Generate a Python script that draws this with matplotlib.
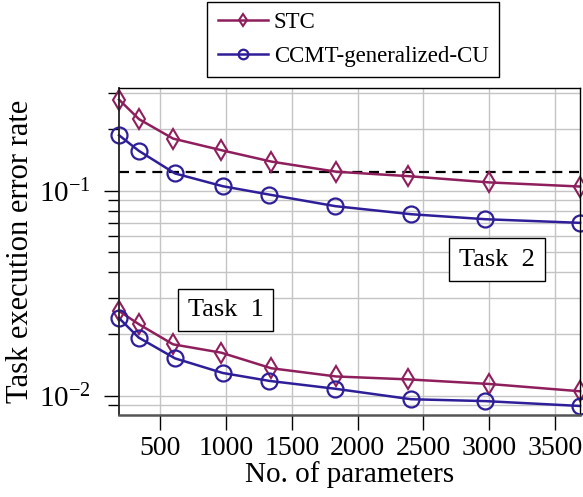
import matplotlib
matplotlib.use("Agg")
import matplotlib.pyplot as plt
from matplotlib.ticker import LogLocator, NullFormatter, FixedLocator

plt.rcParams['font.family'] = ['Liberation Serif', 'DejaVu Serif']
plt.rcParams['mathtext.fontset'] = 'stix'

# Data
stc_x = [186, 338, 597, 964, 1344, 1838, 2385, 2998, 3690]
ccmt_x = [186, 336, 612, 974, 1328, 1830, 2407, 2970, 3690]
stc_task2 = [0.279, 0.224, 0.180, 0.158, 0.139, 0.124, 0.118, 0.110, 0.105]
ccmt_task2 = [0.187, 0.157, 0.1216, 0.1054, 0.0959, 0.0842, 0.0769, 0.0727, 0.0698]
stc_task1 = [0.0259, 0.0223, 0.0178, 0.0162, 0.0136, 0.0124, 0.0120, 0.0114, 0.0105]
ccmt_task1 = [0.0239, 0.0192, 0.0152, 0.0129, 0.0118, 0.0108, 0.0096, 0.0094, 0.0089]
threshold = 0.124
xticks = [500, 1000, 1500, 2000, 2500, 3000, 3500]

stc_color = '#8E1F5C'
ccmt_color = '#2E1F99'

fig = plt.figure(figsize=(5.83, 4.97), dpi=100)
ax = fig.add_axes([119/583, 1-415/497, (580-119)/583, (415-88)/497])

ax.set_yscale('log')
ax.set_xlim(186, 3690)
ax.set_ylim(0.00804, 0.318)

ax.set_axisbelow(True)
ax.grid(True, which='major', color='#c4c4c4', linewidth=1.0)
ax.grid(True, which='minor', axis='y', color='#c4c4c4', linewidth=1.0)

ax.axhline(threshold, color='black', linestyle=(0, (4.5, 3)), linewidth=1.6, zorder=2)

kw_stc = dict(color=stc_color, marker='d', markersize=10, markerfacecolor='none',
              markeredgewidth=1.5, linewidth=1.8, clip_on=False, zorder=3)
kw_ccmt = dict(color=ccmt_color, marker='o', markersize=11.5, markerfacecolor='none',
               markeredgewidth=1.6, linewidth=1.8, clip_on=False, zorder=3)

l1, = ax.plot(stc_x, stc_task2, **kw_stc)
l2, = ax.plot(ccmt_x, ccmt_task2, **kw_ccmt)
ax.plot(stc_x, stc_task1, **kw_stc)
ax.plot(ccmt_x, ccmt_task1, **kw_ccmt)

ax.xaxis.set_major_locator(FixedLocator(xticks))
ax.set_xticklabels([str(t) for t in xticks])
ax.yaxis.set_major_locator(LogLocator(base=10))
ax.yaxis.set_minor_locator(LogLocator(base=10, subs=range(2, 10)))
ax.yaxis.set_minor_formatter(NullFormatter())

ax.tick_params(axis='both', which='major', direction='out', length=11, width=1.0,
               labelsize=20, top=False, right=False)
ax.tick_params(axis='y', which='major', labelsize=21)
ax.tick_params(axis='y', which='minor', direction='out', length=8, width=1.0,
               right=False)
ax.tick_params(axis='x', which='minor', bottom=False, top=False)
ax.tick_params(axis='x', pad=4)
ax.tick_params(axis='y', pad=9)

for s in ax.spines.values():
    s.set_linewidth(1.0)
    s.set_zorder(4)
ax.spines['left'].set_color('#222222')
ax.spines['bottom'].set_color('#555555')
ax.spines['left'].set_linewidth(1.3)
ax.spines['bottom'].set_linewidth(1.8)

ax.set_xlabel('No. of parameters', fontsize=21, labelpad=0)
ax.set_ylabel('Task execution error rate', fontsize=22, labelpad=3)

box = dict(boxstyle='square,pad=0.38', facecolor='white', edgecolor='black', linewidth=1.0)
ax.text((225.5-119)/461, (415-310)/327, 'Task  1', transform=ax.transAxes, fontsize=19,
        ha='center', va='center', bbox=box, zorder=5)
ax.text((497-119)/461, (415-259.5)/327, 'Task  2', transform=ax.transAxes, fontsize=19,
        ha='center', va='center', bbox=box, zorder=5)

leg = fig.legend([l1, l2], ['STC', 'CCMT-generalized-CU'], loc='upper center',
                 bbox_to_anchor=(353/583, 1-2/497), borderaxespad=0, fontsize=16.5,
                 frameon=True, fancybox=False, edgecolor='black', framealpha=1,
                 borderpad=0.45, handlelength=2.2, markerscale=0.6, labelspacing=0.55,
                 handletextpad=0.25)
leg.get_frame().set_linewidth(1.0)

fig.savefig('out.png', dpi=100)
